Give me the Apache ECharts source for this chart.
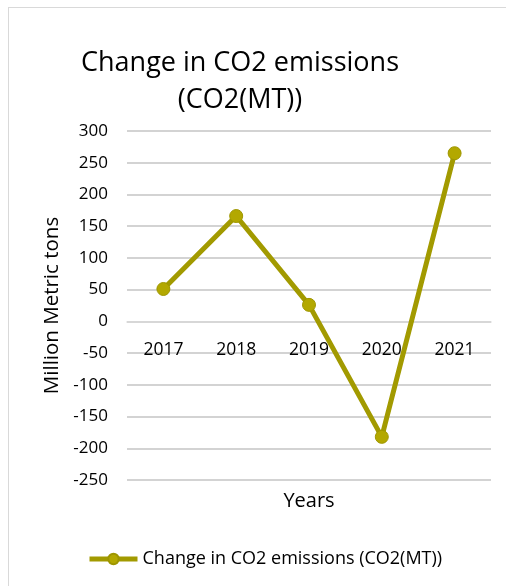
<!DOCTYPE html>
<html>
<head>
<meta charset="utf-8">
<script src="https://cdn.jsdelivr.net/npm/echarts@6/dist/echarts.min.js"></script>
<style>
html,body{margin:0;padding:0;background:#fff;}
#frame{position:absolute;left:8px;top:7px;width:600px;height:700px;border-left:1px solid #d9d9d9;border-top:1px solid #d9d9d9;}
#chart{position:absolute;left:0;top:0;width:506px;height:586px;}
</style>
</head>
<body>
<div id="frame"></div>
<div id="chart"></div>
<script>
const categories = ['2017', '2018', '2019', '2020', '2021'];
const seriesName = 'Change in CO2 emissions (CO2(MT))';
const values = [51, 166, 26, -182, 265];
const yTicks = { min: -250, max: 300, interval: 50 };

const FONT = 'Open Sans';
const GRID_TOP = 131, GRID_BOTTOM = 106, H = 586;
const gridHeight = H - GRID_TOP - GRID_BOTTOM;
// move the category axis up to the zero line of the value axis
const zeroOffset = -gridHeight * (0 - yTicks.min) / (yTicks.max - yTicks.min);

const chart = echarts.init(document.getElementById('chart'), null, { renderer: 'canvas' });
chart.setOption({
  animation: false,
  textStyle: { fontFamily: FONT },
  title: {
    text: 'Change in CO2 emissions\n(CO2(MT))',
    left: 235, top: 40, textAlign: 'center',
    textStyle: { fontFamily: FONT, fontSize: 27, fontWeight: 'normal', color: '#000', lineHeight: 37 }
  },
  legend: {
    data: [{ name: seriesName }],
    bottom: 13, left: 82,
    itemWidth: 48, itemHeight: 13, itemGap: 10,
    lineStyle: { width: 5 },
    textStyle: { fontFamily: FONT, fontSize: 18, color: '#000' }
  },
  grid: { left: 127, right: 15, top: GRID_TOP, bottom: GRID_BOTTOM, outerBoundsMode: 'none' },
  xAxis: {
    type: 'category', data: categories, boundaryGap: true,
    position: 'bottom', offset: zeroOffset,
    axisLine: { onZero: false, lineStyle: { color: '#d9d9d9', width: 1.5 } },
    axisTick: { show: false },
    axisLabel: { fontFamily: FONT, fontSize: 17.5, color: '#000', margin: 20 },
    name: 'Years', nameLocation: 'middle', nameGap: 170,
    nameTextStyle: { fontFamily: FONT, fontSize: 20, color: '#000' }
  },
  yAxis: {
    type: 'value', min: yTicks.min, max: yTicks.max, interval: yTicks.interval,
    axisLine: { show: false }, axisTick: { show: false },
    splitLine: { lineStyle: { color: '#c4c4c4', width: 1.5 } },
    axisLabel: { fontFamily: FONT, fontSize: 17, color: '#000', margin: 19 },
    name: 'Million Metric tons', nameLocation: 'middle', nameGap: 55, nameRotate: 90,
    nameTextStyle: { fontFamily: FONT, fontSize: 20.5, color: '#000' }
  },
  series: [{
    name: seriesName, type: 'line', data: values,
    symbol: 'circle', symbolSize: 13,
    lineStyle: { color: '#a29a00', width: 5 },
    itemStyle: { color: '#b3a800', borderColor: '#9e9600', borderWidth: 1 }
  }]
});
</script>
</body>
</html>
